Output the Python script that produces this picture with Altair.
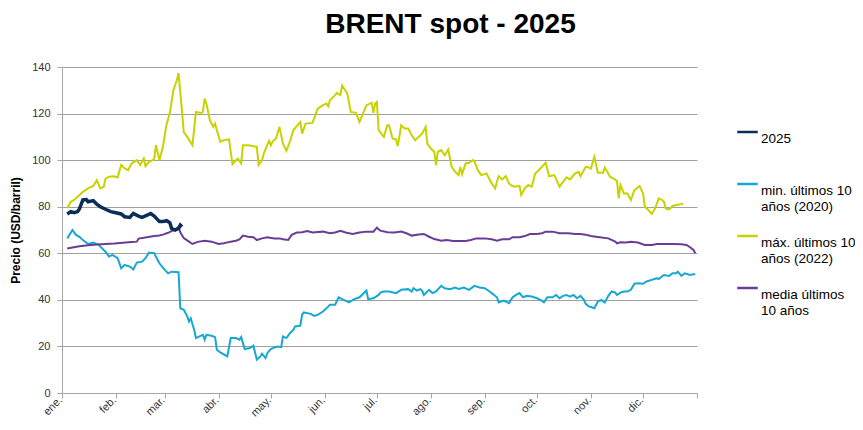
import altair as alt
import pandas as pd

# ---------------- data ----------------
SERIES = ["2025", "min. últimos 10|años (2020)", "máx. últimos 10|años (2022)", "media últimos|10 años"]
COLORS = ["#0B2E59", "#17A8D1", "#C8D200", "#6A3C96"]
MESES = ["ene.", "feb.", "mar.", "abr.", "may.", "jun.", "jul.", "ago.", "sep.", "oct.", "nov.", "dic."]

# day of year (0 = 1 Jan) and price, USD/barril
y2025_dia = [3, 5, 7, 9, 10, 12, 14, 15, 18, 20, 22, 25, 28, 31, 34, 36, 39, 41, 44, 46, 49, 51, 53, 56,
             58, 60, 61, 62, 63, 65, 67, 68, 69]
y2025_val = [76.9, 77.9, 77.4, 77.9, 79.0, 82.9, 83.1, 82.1, 82.6, 81.1, 80.0, 78.9, 77.9, 77.4, 76.9, 75.7,
             75.4, 77.1, 76.0, 75.4, 76.4, 77.1, 76.0, 73.6, 73.6, 74.0, 73.6, 73.1, 70.7, 70.0, 70.7, 72.1, 71.4]

min_dia = [3, 6, 8, 10, 12, 15, 18, 21, 24, 25, 27, 29, 32, 34, 36, 39, 41, 43, 46, 48, 50, 53, 56, 59, 61,
           63, 67, 68, 70, 72, 73, 74, 76, 77, 79, 81, 82, 83, 86, 88, 89, 91, 95, 97, 100, 102, 103, 105,
           108, 110, 112, 114, 115, 117, 118, 120, 122, 124, 126, 127, 129, 131, 133, 134, 137, 138, 139,
           141, 143, 145, 147, 150, 153, 154, 157, 159, 161, 162, 165, 168, 171, 175, 176, 179, 182, 183,
           185, 188, 192, 195, 199, 201, 202, 204, 206, 207, 208, 211, 213, 215, 218, 220, 223, 226, 228,
           231, 234, 237, 240, 243, 245, 247, 250, 251, 254, 257, 259, 261, 263, 265, 267, 270, 273, 275,
           277, 279, 282, 284, 286, 288, 290, 292, 294, 296, 298, 300, 301, 303, 304, 306, 308, 310, 312,
           314, 316, 318, 319, 321, 323, 325, 327, 329, 331, 334, 336, 339, 342, 343, 346, 349, 351, 353,
           354, 356, 358, 361, 364]
min_val = [66.4, 70.0, 67.9, 67.1, 65.7, 64.0, 64.6, 63.6, 61.4, 60.7, 58.6, 59.3, 57.9, 53.6, 55.0, 54.3,
           53.1, 56.0, 56.4, 57.9, 60.3, 60.0, 55.7, 53.0, 51.4, 52.1, 51.9, 36.4, 35.7, 32.9, 30.7, 32.1,
           27.1, 23.6, 24.3, 25.0, 22.9, 25.0, 24.6, 24.0, 18.6, 17.4, 15.7, 23.6, 23.6, 22.9, 24.0, 18.9,
           19.3, 20.3, 14.3, 15.7, 16.9, 15.0, 17.1, 18.9, 19.5, 20.0, 19.7, 24.3, 23.6, 25.7, 27.1, 28.6,
           28.9, 33.6, 34.6, 34.3, 34.0, 33.1, 33.6, 35.0, 37.1, 37.9, 37.9, 41.1, 40.3, 40.0, 38.9, 40.3,
           41.1, 44.0, 40.3, 40.7, 42.1, 43.1, 43.6, 43.6, 42.9, 44.3, 44.6, 43.6, 45.0, 44.0, 44.6, 44.0,
           42.1, 44.3, 42.9, 43.6, 46.0, 45.0, 44.6, 45.3, 44.7, 45.3, 44.3, 46.0, 45.3, 45.0, 44.0, 42.9,
           41.1, 38.9, 39.7, 38.6, 41.1, 42.1, 42.9, 41.1, 41.7, 41.4, 40.7, 40.0, 38.9, 41.1, 41.1, 42.1,
           40.7, 41.7, 42.1, 41.4, 42.1, 40.7, 41.7, 40.0, 38.3, 37.1, 36.9, 36.4, 39.3, 40.0, 38.9, 41.7,
           43.6, 43.1, 42.1, 43.1, 43.6, 43.6, 44.3, 46.9, 47.1, 46.9, 47.9, 48.6, 49.3, 48.9, 50.7, 50.3,
           51.4, 51.4, 52.1, 50.3, 51.4, 50.7, 51.1]

max_dia = [3, 5, 7, 9, 12, 15, 18, 20, 22, 24, 25, 27, 30, 32, 34, 36, 38, 40, 43, 45, 47, 48, 50, 53, 54,
           56, 58, 60, 62, 64, 66, 67, 69, 70, 72, 75, 76, 77, 80, 81, 82, 83, 85, 87, 88, 89, 91, 93, 96,
           98, 100, 101, 103, 104, 107, 110, 112, 113, 115, 116, 119, 120, 121, 123, 125, 127, 129, 131,
           133, 137, 138, 140, 144, 147, 150, 152, 153, 154, 157, 158, 160, 161, 164, 166, 169, 171, 173,
           175, 178, 179, 180, 181, 182, 185, 187, 188, 190, 192, 193, 195, 197, 199, 201, 203, 205, 207,
           209, 210, 212, 214, 215, 216, 218, 220, 222, 224, 226, 228, 229, 230, 232, 234, 236, 237, 239,
           241, 243, 244, 247, 249, 250, 251, 253, 255, 257, 258, 260, 263, 264, 266, 268, 270, 272, 274,
           275, 278, 280, 283, 286, 288, 290, 292, 295, 297, 298, 301, 302, 304, 306, 308, 311, 312, 315,
           317, 319, 320, 321, 323, 325, 327, 329, 332, 334, 335, 337, 339, 341, 343, 345, 346, 347, 349,
           351, 353, 356, 357]
max_val = [79.3, 82.1, 82.9, 84.3, 86.4, 87.9, 88.9, 91.4, 87.9, 88.6, 92.1, 92.9, 93.1, 92.6, 97.9, 96.4,
           95.7, 98.6, 100.0, 97.9, 100.7, 97.4, 99.3, 100.3, 106.4, 100.0, 105.7, 115.0, 120.3, 130.0,
           134.3, 137.4, 120.7, 112.0, 110.0, 106.4, 113.6, 120.7, 120.3, 120.7, 126.4, 124.3, 117.1,
           114.3, 115.7, 112.9, 107.9, 108.6, 108.9, 98.3, 100.0, 100.6, 98.6, 106.4, 106.4, 106.0,
           105.7, 97.9, 100.0, 102.9, 108.3, 106.4, 108.0, 109.3, 114.3, 107.1, 104.0, 108.0, 112.9,
           116.4, 111.4, 115.7, 116.0, 122.1, 123.6, 124.3, 123.1, 125.7, 127.9, 128.9, 127.9, 132.1,
           128.6, 120.7, 120.3, 116.4, 120.0, 123.6, 124.6, 120.3, 124.3, 125.0, 112.9, 110.0, 115.0,
           115.0, 109.3, 108.9, 106.0, 115.0, 113.6, 113.6, 110.7, 108.6, 110.0, 111.4, 114.3, 107.1,
           105.0, 103.6, 97.9, 103.6, 104.3, 102.1, 104.6, 97.1, 95.0, 93.6, 97.1, 94.0, 98.6, 98.9,
           100.0, 99.7, 95.7, 93.6, 94.0, 94.3, 90.0, 87.9, 90.7, 93.1, 91.7, 93.1, 90.0, 89.3, 88.6,
           88.9, 85.0, 87.9, 89.3, 88.6, 94.3, 95.7, 96.4, 98.9, 93.1, 93.6, 88.6, 90.7, 92.6, 91.7, 94.3,
           95.0, 93.1, 97.1, 97.1, 96.4, 101.4, 94.6, 94.6, 96.9, 92.9, 92.1, 91.1, 83.6, 89.3, 85.7,
           85.7, 82.9, 87.1, 88.9, 85.7, 80.0, 78.6, 76.9, 79.3, 83.6, 82.9, 82.1, 79.3, 78.9, 80.3, 80.7,
           81.1, 81.4]

media_dia = [3, 6, 10, 15, 20, 25, 30, 35, 40, 43, 44, 48, 53, 56, 58, 61, 63, 65, 67, 68, 70, 73, 75, 78,
             82, 86, 90, 93, 97, 100, 102, 104, 107, 110, 112, 115, 118, 122, 125, 127, 130, 132, 135, 138,
             141, 144, 147, 150, 154, 157, 160, 163, 167, 171, 175, 179, 181, 183, 187, 191, 195, 198, 201,
             205, 208, 211, 214, 218, 221, 225, 228, 232, 235, 238, 243, 247, 250, 253, 257, 259, 263, 266,
             269, 273, 276, 278, 282, 286, 291, 295, 298, 301, 304, 309, 314, 318, 319, 321, 324, 327, 331,
             335, 339, 342, 348, 352, 356, 359, 361, 363, 364]
media_val = [62.1, 62.5, 63.0, 63.5, 63.8, 64.0, 64.2, 64.5, 64.8, 65.0, 66.3, 66.8, 67.4, 67.6, 68.0, 68.8,
             69.5, 70.3, 71.3, 69.0, 66.5, 65.0, 64.0, 64.9, 65.4, 65.0, 64.0, 64.3, 65.0, 65.4, 66.0, 67.6,
             67.1, 66.9, 65.7, 66.4, 66.9, 66.4, 66.4, 66.0, 65.7, 67.9, 68.9, 69.0, 69.6, 68.9, 69.1, 69.3,
             68.6, 68.9, 69.7, 68.9, 68.3, 68.9, 69.3, 69.3, 71.0, 69.7, 69.0, 68.9, 69.3, 68.6, 67.6, 68.1,
             68.3, 67.1, 66.1, 65.4, 65.7, 65.3, 65.3, 65.3, 65.7, 66.4, 66.4, 66.0, 65.4, 66.0, 66.0, 66.9,
             66.9, 67.4, 68.3, 68.3, 68.6, 69.3, 69.3, 68.6, 68.6, 68.3, 68.3, 68.0, 67.4, 66.9, 66.4, 65.0,
             64.3, 64.7, 64.6, 65.0, 64.6, 63.6, 63.6, 64.0, 64.0, 64.0, 63.9, 63.6, 62.6, 61.4, 60.0]


def frame(name, dias, vals):
    base = pd.Timestamp("2025-01-01")
    fechas = [(base + pd.Timedelta(days=d)).strftime("%Y-%m-%dT00:00:00") for d in dias]
    return pd.DataFrame({"fecha": fechas, "precio": vals, "serie": name})


df = pd.concat([
    frame(SERIES[1], min_dia, min_val),
    frame(SERIES[2], max_dia, max_val),
    frame(SERIES[3], media_dia, media_val),
    frame(SERIES[0], y2025_dia, y2025_val),
], ignore_index=True)

FONT = "Liberation Sans"
month_ticks = [alt.DateTime(year=2025, month=m, date=1) for m in range(1, 13)] + [alt.DateTime(year=2026, month=1, date=1)]
label_expr = "year(datum.value) > 2025 ? '' : " + str(MESES) + "[month(datum.value)]"

chart = alt.Chart(df).mark_line(interpolate="linear").encode(
    x=alt.X("fecha:T",
            scale=alt.Scale(domain=[alt.DateTime(year=2025, month=1, date=1), alt.DateTime(year=2026, month=1, date=1)]),
            axis=alt.Axis(title=None, values=month_ticks, labelExpr=label_expr, labelAngle=-45,
                          labelAlign="right", labelBaseline="top", labelFontSize=11, labelFont=FONT,
                          labelColor="#333333", tickSize=5, tickColor="#A6A6A6", domainColor="#A6A6A6",
                          grid=False, labelPadding=-4, labelOffset=-6)),
    y=alt.Y("precio:Q",
            scale=alt.Scale(domain=[0, 140], nice=False),
            axis=alt.Axis(title="Precio (USD/barril)", values=list(range(0, 141, 20)), titleFontSize=12,
                          titleFont=FONT, titleFontWeight="bold", titleColor="#000000", titlePadding=9,
                          labelFontSize=11, labelFont=FONT, labelColor="#333333", labelPadding=7,
                          tickSize=5, tickColor="#A6A6A6", domainColor="#A6A6A6", grid=True,
                          gridColor="#A0A0A0", gridWidth=1)),
    color=alt.Color("serie:N", sort=SERIES,
                    scale=alt.Scale(domain=SERIES, range=COLORS),
                    legend=alt.Legend(title=None, orient="none", legendX=674, legendY=53.5,
                                      labelExpr="split(datum.label, '|')", symbolType="stroke",
                                      symbolSize=420, symbolStrokeWidth=2.5, labelFontSize=13.5,
                                      labelFont=FONT, labelColor="#000000", gridAlign="all",
                                      rowPadding=11, labelBaseline="top", labelOffset=2)),
    strokeWidth=alt.condition(alt.datum.serie == "2025", alt.value(3.5), alt.value(2)),
).properties(
    width=635,
    height=326,
    autosize=alt.AutoSizeParams(type="none"),
    padding={"left": 54, "top": 59, "right": 158, "bottom": 27},
    title=alt.TitleParams("BRENT spot - 2025", fontSize=28, font=FONT, fontWeight="bold",
                          color="#000000", anchor="middle", dx=71, offset=22),
).configure_view(strokeWidth=0)

chart.save("out.html", embed_options={"renderer": "svg", "actions": False})
